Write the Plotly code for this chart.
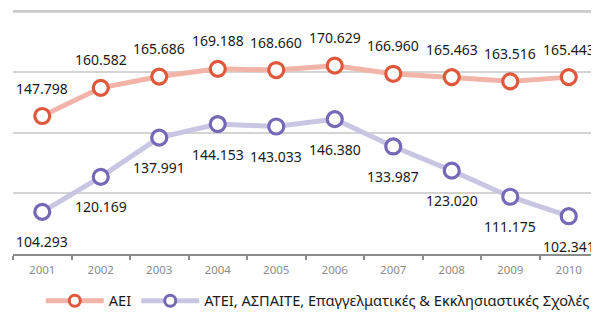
import plotly.graph_objects as go

years = ["2001", "2002", "2003", "2004", "2005", "2006", "2007", "2008", "2009", "2010"]
aei = [147.798, 160.582, 165.686, 169.188, 168.660, 170.629, 166.960, 165.463, 163.516, 165.443]
atei = [104.293, 120.169, 137.991, 144.153, 143.033, 146.380, 133.987, 123.020, 111.175, 102.341]
aei_labels = ["147.798", "160.582", "165.686", "169.188", "168.660", "170.629", "166.960", "165.463", "163.516", "165.443"]
atei_labels = ["104.293", "120.169", "137.991", "144.153", "143.033", "146.380", "133.987", "123.020", "111.175", "102.341"]
names = ["ΑΕΙ", "ΑΤΕΙ, ΑΣΠΑΙΤΕ, Επαγγελματικές & Εκκλησιαστικές Σχολές"]

y0, y1 = 85.2, 195.1
step = (y1 - y0) / 4
gridvals = [y0 + step * k for k in range(1, 5)]

FONT = "Noto Sans, Open Sans, sans-serif"
C_AEI_LINE, C_AEI_MK = "#F2B4A8", "#E0583C"
C_AT_LINE, C_AT_MK = "#C9C6E3", "#7568B6"
GRID = "#d4d4d4"

fig = go.Figure()
fig.add_trace(go.Scatter(
    x=years, y=aei, mode="lines+markers", name=names[0], showlegend=False,
    line=dict(color=C_AEI_LINE, width=5),
    marker=dict(symbol="circle", size=15, color="white", line=dict(color=C_AEI_MK, width=3.2)),
))
fig.add_trace(go.Scatter(
    x=years, y=atei, mode="lines+markers", name=names[1], showlegend=False,
    line=dict(color=C_AT_LINE, width=5),
    marker=dict(symbol="circle", size=15, color="white", line=dict(color=C_AT_MK, width=3.2)),
))
fig.add_trace(go.Scatter(
    x=[None], y=[None], mode="lines+markers", name=names[0],
    line=dict(color=C_AEI_LINE, width=5),
    marker=dict(symbol="circle", size=11, color="white", line=dict(color=C_AEI_MK, width=3)),
))
fig.add_trace(go.Scatter(
    x=[None], y=[None], mode="lines+markers", name=names[1],
    line=dict(color=C_AT_LINE, width=5),
    marker=dict(symbol="circle", size=11, color="white", line=dict(color=C_AT_MK, width=3)),
))

for i, (y, t) in enumerate(zip(aei, aei_labels)):
    fig.add_annotation(x=i, y=y, text=t, showarrow=False, yshift=28,
                       font=dict(family=FONT, size=14, color="#1a1a1a"))
for i, (y, t) in enumerate(zip(atei, atei_labels)):
    fig.add_annotation(x=i, y=y, text=t, showarrow=False, yshift=-30,
                       font=dict(family=FONT, size=14, color="#1a1a1a"))

# top gridline, anchored to the top of the plot area
fig.add_shape(type="line", xref="paper", x0=0, x1=1, yref="paper", ysizemode="pixel",
              yanchor=1, y0=-3, y1=-3,
              line=dict(color="#cccccc", width=2), layer="above")

fig.update_layout(
    width=591, height=305,
    margin=dict(l=5, r=1, t=0, b=59, autoexpand=False),
    paper_bgcolor="white", plot_bgcolor="white",
    font=dict(family=FONT, color="#1a1a1a"),
    showlegend=True,
    legend=dict(orientation="h", x=0.521, xanchor="center", y=-0.125, yanchor="top",
                font=dict(family=FONT, size=14.6, color="#1a1a1a"),
                itemwidth=58, bgcolor="rgba(0,0,0,0)", traceorder="normal"),
    xaxis=dict(type="category", range=[-0.5, 9.5], showgrid=False,
               showline=True, linecolor="#8c8c8c", linewidth=1.5,
               ticks="outside", tickson="boundaries", ticklen=4, tickcolor="#8c8c8c", tickwidth=1.5,
               ticklabelstandoff=4,
               tickfont=dict(family=FONT, size=11.5, color="#8c8c8c"), fixedrange=True),
    yaxis=dict(range=[y0, y1 + 1.7], tickvals=gridvals, showticklabels=False,
               showgrid=True, gridcolor=GRID, gridwidth=1.5, zeroline=False,
               showline=False, fixedrange=True),
)

fig.write_html("out.html")
